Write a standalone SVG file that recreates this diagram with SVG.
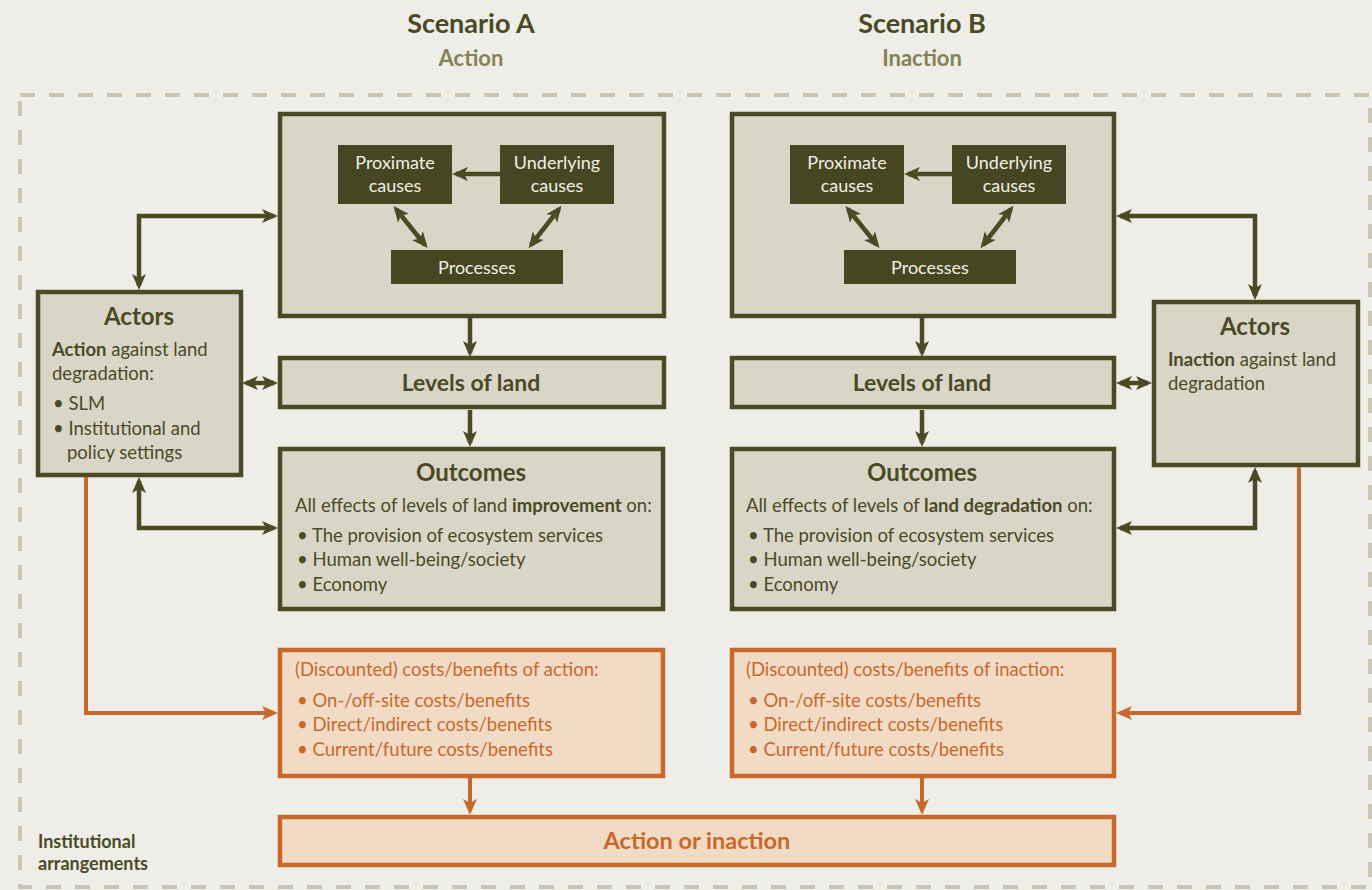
<svg xmlns="http://www.w3.org/2000/svg" width="1372" height="890" viewBox="0 0 1372 890">
<defs>
<style>
.t{font-family:Lato,"Open Sans","Liberation Sans",sans-serif;fill:#4A4B25}
.w{fill:#F1EFE6}
.o{fill:#C8692B}
.b{font-weight:bold}
.s{font-size:18.5px}
.i{font-size:18px}
.h{font-size:24px;font-weight:bold}
.box{fill:#D9D6C8;stroke:#4A4B25;stroke-width:4.5}
.ibox{fill:#464623}
.obox{fill:#F2DBC4;stroke:#C8692B;stroke-width:4.5}
.ln{fill:none;stroke:#4A4B25;stroke-width:4.5}
.ol{fill:none;stroke:#C8692B;stroke-width:4}
</style>
<marker id="a" viewBox="0 0 16 16" markerWidth="16" markerHeight="16" refX="12" refY="8" orient="auto-start-reverse" markerUnits="userSpaceOnUse"><path d="M0,1 L16,8 L0,15 L4,8 z" fill="#4A4B25"/></marker>
<marker id="ao" viewBox="0 0 16 16" markerWidth="16" markerHeight="16" refX="12" refY="8" orient="auto-start-reverse" markerUnits="userSpaceOnUse"><path d="M0,1 L16,8 L0,15 L4,8 z" fill="#C8692B"/></marker>
</defs>
<rect width="1372" height="890" fill="#EEEDE8"/>
<rect x="20" y="95" width="1350" height="792" fill="none" stroke="#C9C6B4" stroke-width="4" stroke-dasharray="15 14"/>

<g id="titles">
<text class="t b" x="471" y="33" font-size="27" text-anchor="middle">Scenario A</text>
<text class="t b" x="471" y="66" font-size="22" text-anchor="middle" style="fill:#858355">Action</text>
<text class="t b" x="922" y="33" font-size="27" text-anchor="middle">Scenario B</text>
<text class="t b" x="922" y="66" font-size="22" text-anchor="middle" style="fill:#858355">Inaction</text>
</g>

<g id="driversA">
<rect class="box" x="280" y="114" width="384" height="202"/>
</g>
<g id="proximateA">
<rect class="ibox" x="338" y="145" width="114" height="59"/>
<text class="t w i" x="395" y="169" text-anchor="middle">Proximate</text>
<text class="t w i" x="395" y="192" text-anchor="middle">causes</text>
</g>
<g id="underlyingA">
<rect class="ibox" x="500" y="145" width="114" height="59"/>
<text class="t w i" x="557" y="169" text-anchor="middle">Underlying</text>
<text class="t w i" x="557" y="192" text-anchor="middle">causes</text>
</g>
<g id="processesA">
<rect class="ibox" x="391" y="250" width="172" height="34"/>
<text class="t w i" x="477" y="274" text-anchor="middle">Processes</text>
</g>
<g id="levelsA">
<rect class="box" x="280" y="358" width="384" height="49"/>
<text class="t b" x="471" y="391" font-size="23" text-anchor="middle">Levels of land</text>
</g>
<g id="outcomesA">
<rect class="box" x="280" y="449" width="383" height="160"/>
<text class="t h" x="471" y="481" text-anchor="middle">Outcomes</text>
<text class="t s" x="295" y="512">All effects of levels of land <tspan class="b">improvement</tspan> on:</text>
<text class="t s" x="297" y="542">• The provision of ecosystem services</text>
<text class="t s" x="297" y="566">• Human well-being/society</text>
<text class="t s" x="297" y="591">• Economy</text>
</g>
<g id="actorsA">
<rect class="box" x="38" y="292" width="203" height="183"/>
<text class="t h" x="139" y="325" text-anchor="middle">Actors</text>
<text class="t s" x="52" y="356"><tspan class="b">Action</tspan> against land</text>
<text class="t s" x="52" y="380">degradation:</text>
<text class="t s" x="53" y="410">• SLM</text>
<text class="t s" x="53" y="435">• Institutional and</text>
<text class="t s" x="67" y="459">policy settings</text>
</g>
<g id="costsA">
<rect class="obox" x="280" y="650" width="383" height="126"/>
<text class="t o s" x="295" y="676">(Discounted) costs/benefits of action:</text>
<text class="t o s" x="297" y="707">• On-/off-site costs/benefits</text>
<text class="t o s" x="297" y="731">• Direct/indirect costs/benefits</text>
<text class="t o s" x="297" y="756">• Current/future costs/benefits</text>
</g>

<g id="driversB">
<rect class="box" x="732" y="114" width="382" height="202"/>
</g>
<g id="proximateB">
<rect class="ibox" x="790" y="145" width="114" height="59"/>
<text class="t w i" x="847" y="169" text-anchor="middle">Proximate</text>
<text class="t w i" x="847" y="192" text-anchor="middle">causes</text>
</g>
<g id="underlyingB">
<rect class="ibox" x="952" y="145" width="114" height="59"/>
<text class="t w i" x="1009" y="169" text-anchor="middle">Underlying</text>
<text class="t w i" x="1009" y="192" text-anchor="middle">causes</text>
</g>
<g id="processesB">
<rect class="ibox" x="844" y="250" width="172" height="34"/>
<text class="t w i" x="930" y="274" text-anchor="middle">Processes</text>
</g>
<g id="levelsB">
<rect class="box" x="732" y="358" width="382" height="49"/>
<text class="t b" x="922" y="391" font-size="23" text-anchor="middle">Levels of land</text>
</g>
<g id="outcomesB">
<rect class="box" x="732" y="449" width="382" height="160"/>
<text class="t h" x="922" y="481" text-anchor="middle">Outcomes</text>
<text class="t s" x="746" y="512">All effects of levels of <tspan class="b">land degradation</tspan> on:</text>
<text class="t s" x="748" y="542">• The provision of ecosystem services</text>
<text class="t s" x="748" y="566">• Human well-being/society</text>
<text class="t s" x="748" y="591">• Economy</text>
</g>
<g id="actorsB">
<rect class="box" x="1154" y="302" width="204" height="163"/>
<text class="t h" x="1255" y="335" text-anchor="middle">Actors</text>
<text class="t s" x="1168" y="366"><tspan class="b">Inaction</tspan> against land</text>
<text class="t s" x="1168" y="390">degradation</text>
</g>
<g id="costsB">
<rect class="obox" x="732" y="650" width="382" height="126"/>
<text class="t o s" x="746" y="676">(Discounted) costs/benefits of inaction:</text>
<text class="t o s" x="748" y="707">• On-/off-site costs/benefits</text>
<text class="t o s" x="748" y="731">• Direct/indirect costs/benefits</text>
<text class="t o s" x="748" y="756">• Current/future costs/benefits</text>
</g>
<g id="decision">
<rect class="obox" x="280" y="817" width="834" height="48"/>
<text class="t o b" x="697" y="849" font-size="23.5" text-anchor="middle">Action or inaction</text>
</g>
<g id="institutional">
<text class="t b" x="38" y="848" font-size="18">Institutional</text>
<text class="t b" x="38" y="870" font-size="18">arrangements</text>
</g>

<g id="connectors">
<path class="ln" d="M139,286 V216 H274" marker-start="url(#a)" marker-end="url(#a)"/>
<path class="ln" d="M246,383 H274" marker-start="url(#a)" marker-end="url(#a)"/>
<path class="ln" d="M139,481 V528 H274" marker-start="url(#a)" marker-end="url(#a)"/>
<path class="ln" d="M470,318 V353" marker-end="url(#a)"/>
<path class="ln" d="M470,410 V443" marker-end="url(#a)"/>
<path class="ln" d="M500,174 H456" marker-end="url(#a)"/>
<path class="ln" d="M396,209 L425,245" marker-start="url(#a)" marker-end="url(#a)"/>
<path class="ln" d="M559,209 L531,245" marker-start="url(#a)" marker-end="url(#a)"/>
<path class="ol" d="M86,477 V713 H274" marker-end="url(#ao)"/>
<path class="ol" d="M470,778 V811" marker-end="url(#ao)"/>

<path class="ln" d="M1255,296 V216 H1120" marker-start="url(#a)" marker-end="url(#a)"/>
<path class="ln" d="M1148,383 H1120" marker-start="url(#a)" marker-end="url(#a)"/>
<path class="ln" d="M1255,471 V528 H1120" marker-start="url(#a)" marker-end="url(#a)"/>
<path class="ln" d="M922,318 V353" marker-end="url(#a)"/>
<path class="ln" d="M922,410 V443" marker-end="url(#a)"/>
<path class="ln" d="M952,174 H908" marker-end="url(#a)"/>
<path class="ln" d="M848,209 L877,245" marker-start="url(#a)" marker-end="url(#a)"/>
<path class="ln" d="M1011,209 L983,245" marker-start="url(#a)" marker-end="url(#a)"/>
<path class="ol" d="M1299,467 V713 H1120" marker-end="url(#ao)"/>
<path class="ol" d="M922,778 V811" marker-end="url(#ao)"/>
</g>
</svg>
